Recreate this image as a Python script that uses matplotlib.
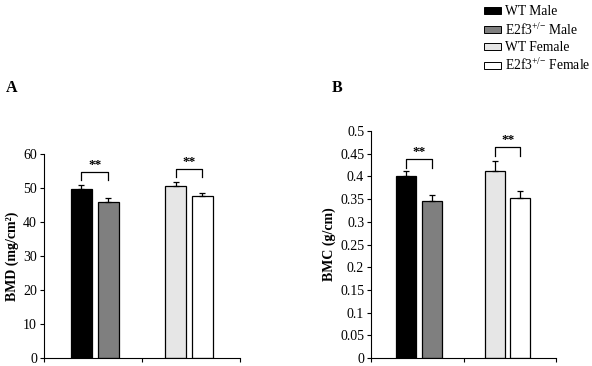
import numpy as np
import matplotlib.pyplot as plt
from matplotlib.patches import Patch

plt.rcParams['font.family'] = ['Liberation Serif', 'DejaVu Serif']
plt.rcParams['mathtext.default'] = 'regular'

# data
groups = ['WT Male', 'E2f3$^{+/{-}}$ Male', 'WT Female', 'E2f3$^{+/{-}}$ Female']
colors = ['#000000', '#7f7f7f', '#e6e6e6', '#ffffff']
bmd = [49.7, 45.9, 50.6, 47.6]
bmd_err = [1.2, 1.2, 1.2, 1.1]
bmc = [0.400, 0.347, 0.411, 0.352]
bmc_err = [0.011, 0.012, 0.023, 0.015]
bmd_ticks = [0, 10, 20, 30, 40, 50, 60]
bmc_ticks = [0, 0.05, 0.1, 0.15, 0.2, 0.25, 0.3, 0.35, 0.4, 0.45, 0.5]
bmc_ticklabels = ['0', '0.05', '0.1', '0.15', '0.2', '0.25', '0.3', '0.35', '0.4', '0.45', '0.5']

# bar positions inside the two groups (male, female)
xpos = [0.38, 0.655, 1.345, 1.615]
width = 0.215


def draw_panel(ax, vals, errs, ymax, bracket_y, drop):
    for x, v, e, c in zip(xpos, vals, errs, colors):
        ax.bar(x, v, width, color=c, edgecolor='black', linewidth=0.9, zorder=2)
        ax.errorbar(x, v, yerr=[[0], [e]], fmt='none', ecolor='black',
                    elinewidth=0.9, capsize=2.5, capthick=0.9, zorder=3)
    # significance brackets
    for (a, b), by in zip([(0, 1), (2, 3)], bracket_y):
        xa, xb = xpos[a], xpos[b]
        ax.plot([xa, xa, xb, xb], [by - drop, by, by, by - drop],
                color='black', lw=0.9, clip_on=False)
        ax.text((xa + xb) / 2, by + drop * 0.15, '**', ha='center', va='bottom',
                fontsize=9.5, fontweight='bold')
    ax.set_xlim(0, 2)
    ax.set_ylim(0, ymax)
    ax.set_xticks([0, 1, 2])
    ax.set_xticklabels([])
    ax.spines['top'].set_visible(False)
    ax.spines['right'].set_visible(False)
    ax.tick_params(axis='both', direction='out', length=3, width=0.8, labelsize=10)
    ax.tick_params(axis='y', pad=2)


fig = plt.figure(figsize=(5.92, 3.66), dpi=100)

axA = fig.add_axes([0.0743, 0.0219, 0.331, 0.557])
draw_panel(axA, bmd, bmd_err, 60, [54.7, 55.6], 2.4)
axA.set_yticks(bmd_ticks)
axA.set_ylabel('BMD (mg/cm²)', fontsize=10, fontweight='bold', labelpad=3)

axB = fig.add_axes([0.627, 0.0219, 0.312, 0.620])
draw_panel(axB, bmc, bmc_err, 0.5, [0.4375, 0.464], 0.019)
axB.set_yticks(bmc_ticks)
axB.set_yticklabels(bmc_ticklabels)
axB.set_ylabel('BMC (g/cm)', fontsize=10, fontweight='bold', labelpad=3)

fig.text(0.010, 0.76, 'A', fontsize=11.5, fontweight='bold', va='center')
fig.text(0.560, 0.76, 'B', fontsize=11.5, fontweight='bold', va='center')

handles = [Patch(facecolor=c, edgecolor='black', linewidth=0.7) for c in colors]
fig.legend(handles, groups, loc='upper left', bbox_to_anchor=(0.808, 1.0),
           frameon=False, fontsize=9.8, handlelength=1.3, handleheight=0.4,
           handletextpad=0.25, labelspacing=0.25, borderaxespad=0)

fig.savefig('out.png', dpi=100)
